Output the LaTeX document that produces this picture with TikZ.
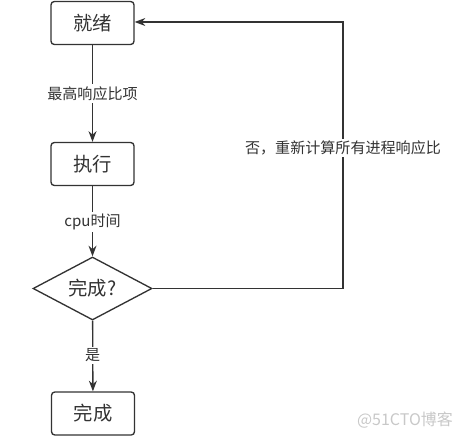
\documentclass[tikz,border=0pt]{standalone}
\usepackage{fontspec}
\setmainfont{Noto Sans CJK SC}
\usetikzlibrary{shapes.geometric,arrows.meta}
\definecolor{ln}{HTML}{333333}
\definecolor{wm}{HTML}{C8C8C8}
\begin{document}
\begin{tikzpicture}[x=0.75pt,y=-0.75pt,
  box/.style={draw=ln,line width=1pt,rounded corners=2.5pt,minimum width=83*0.75pt,minimum height=43*0.75pt,inner sep=0pt,font=\fontsize{14.5}{16}\selectfont,text=ln},
  dec/.style={draw=ln,line width=1pt,diamond,aspect=1.9,minimum width=119*0.75pt,minimum height=63*0.75pt,inner sep=0pt,font=\fontsize{14.5}{16}\selectfont,text=ln},
  lbl/.style={fill=white,inner sep=1.5pt,font=\fontsize{11.3}{13}\selectfont,text=ln},
  conn/.style={draw=ln,line width=1pt,-{Stealth[length=8pt,width=6pt]}}]
\useasboundingbox (0,0) rectangle (463,442);
\node[box] (ready) at (92.5,23) {就绪};
\node[box] (exec) at (92.5,164) {执行};
\node[dec] (chk) at (92.5,288.5) {完成?};
\node[box] (done) at (93,413.5) {完成};
\coordinate (c1) at (343,288.5);
\coordinate (c2) at (343,22);
\draw[conn] (ready) -- node[lbl] {最高响应比项} (exec);
\draw[conn] (exec) -- node[lbl,pos=0.51] {cpu时间} (chk);
\draw[conn] (chk) -- node[lbl,pos=0.49] {是} (done);
\draw[conn] (chk.east) -- (c1) -- node[lbl,pos=0.527] {否，重新计算所有进程响应比} (c2) -- (ready.east |- c2);
\node[text=wm,font=\fontsize{12}{14}\selectfont] (wmk) at (405,420) {@51CTO博客};
\end{tikzpicture}
\end{document}
